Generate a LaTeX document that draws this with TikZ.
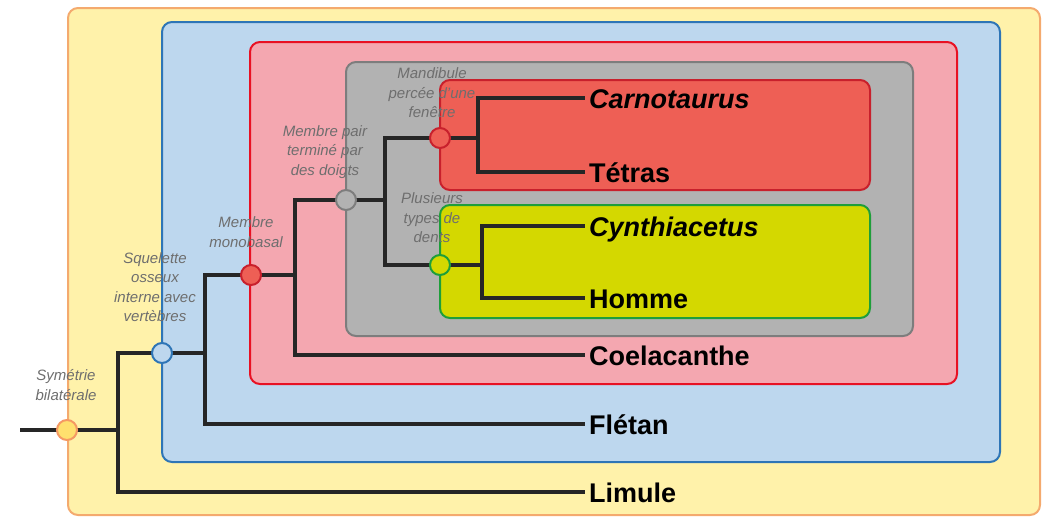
\documentclass[tikz,border=0pt]{standalone}
\usepackage{fontspec}
\setmainfont{Liberation Sans}
\usepackage{tikz}
\usetikzlibrary{calc}
\tikzset{>=latex}
\definecolor{outerfill}{RGB}{255, 242, 170}
\definecolor{outerline}{RGB}{244, 170, 110}
\definecolor{bluefill}{RGB}{189, 215, 238}
\definecolor{blueline}{RGB}{46, 117, 182}
\definecolor{pinkfill}{RGB}{244, 167, 176}
\definecolor{pinkline}{RGB}{232, 17, 35}
\definecolor{grayfill}{RGB}{178, 178, 178}
\definecolor{grayline}{RGB}{125, 125, 125}
\definecolor{redfill}{RGB}{238, 95, 85}
\definecolor{redline}{RGB}{200, 32, 44}
\definecolor{limefill}{RGB}{212, 216, 0}
\definecolor{limeline}{RGB}{30, 158, 58}
\definecolor{symfill}{RGB}{255, 224, 110}
\definecolor{traittext}{RGB}{110, 110, 110}
\tikzset{
  cladebox/.style = {line width = 2pt, rounded corners = 10pt},
  branch/.style = {line width = 3.5pt, color = black!85},
  trait/.style = {circle, minimum size = 20pt, inner sep = 0pt, line width = 2pt},
  traitlabel/.style = {align = center, text = traittext, font = \fontsize{15}{19.5}\selectfont\itshape},
  taxon/.style = {anchor = west, inner sep = 4pt, text height = 20pt, text depth = 0pt, font = \fontsize{27}{30}\selectfont\bfseries}
}

\begin{document}
\begin{tikzpicture}[x = 1pt, y = -1pt]
\useasboundingbox (0, 0) rectangle (1043, 517);
% nested clades
\draw[cladebox, fill = outerfill, draw = outerline] (68, 8) rectangle (1040, 515);
\draw[cladebox, fill = bluefill, draw = blueline] (162, 22) rectangle (1000, 462);
\draw[cladebox, fill = pinkfill, draw = pinkline] (250, 42) rectangle (957, 384);
\draw[cladebox, fill = grayfill, draw = grayline] (346, 62) rectangle (913, 336);
\draw[cladebox, fill = redfill, draw = redline] (440, 80) rectangle (870, 190);
\draw[cladebox, fill = limefill, draw = limeline] (440, 205) rectangle (870, 318);

% taxa
\node[taxon] (limule) at (585, 492) {Limule};
\node[taxon] (fletan) at (585, 424) {Flétan};
\node[taxon] (coel) at (585, 355) {Coelacanthe};
\node[taxon] (carno) at (585, 98) {\itshape Carnotaurus};
\node[taxon] (tetras) at (585, 172) {Tétras};
\node[taxon] (cynth) at (585, 226) {\itshape Cynthiacetus};
\node[taxon] (homme) at (585, 298) {Homme};

% junctions
\coordinate (root) at (20, 430);
\coordinate (j0) at (118, 430);
\coordinate (j1) at (205, 353);
\coordinate (j2) at (295, 275);
\coordinate (j3) at (385, 200);
\coordinate (j4) at (478, 138);
\coordinate (j5) at (482, 265);

% tree
\draw[branch] (root) -- (j0);
\draw[branch] (j0) |- (limule.west);
\draw[branch] (j0) |- (j1);
\draw[branch] (j1) |- (fletan.west);
\draw[branch] (j1) |- (j2);
\draw[branch] (j2) |- (coel.west);
\draw[branch] (j2) |- (j3);
\draw[branch] (j3) |- (j4);
\draw[branch] (j3) |- (j5);
\draw[branch] (j4) |- (carno.west);
\draw[branch] (j4) |- (tetras.west);
\draw[branch] (j5) |- (cynth.west);
\draw[branch] (j5) |- (homme.west);

% traits
\node[trait, fill = symfill, draw = outerline!90!red] (sym) at (67, 430) {};
\node[trait, fill = bluefill, draw = blueline] (squel) at (162, 353) {};
\node[trait, fill = redfill, draw = redline] (monob) at (251, 275) {};
\node[trait, fill = grayfill, draw = grayline] (doigts) at (346, 200) {};
\node[trait, fill = redfill, draw = redline] (mandib) at (440, 138) {};
\node[trait, fill = limefill, draw = limeline] (dents) at (440, 265) {};

\node[traitlabel] (symlbl) at (66, 385) {Symétrie\\bilatérale};
\node[traitlabel] (squellbl) at (155, 287) {Squelette\\osseux\\interne avec\\vertèbres};
\node[traitlabel] (monoblbl) at (246, 232) {Membre\\monobasal};
\node[traitlabel] (doigtslbl) at (325, 152) {Membre pair\\terminé par\\des doigts};
\node[traitlabel] (mandiblbl) at (432, 93) {Mandibule\\percée d'une\\fenêtre};
\node[traitlabel] (dentslbl) at (432, 218) {Plusieurs\\types de\\dents};
\end{tikzpicture}
\end{document}
